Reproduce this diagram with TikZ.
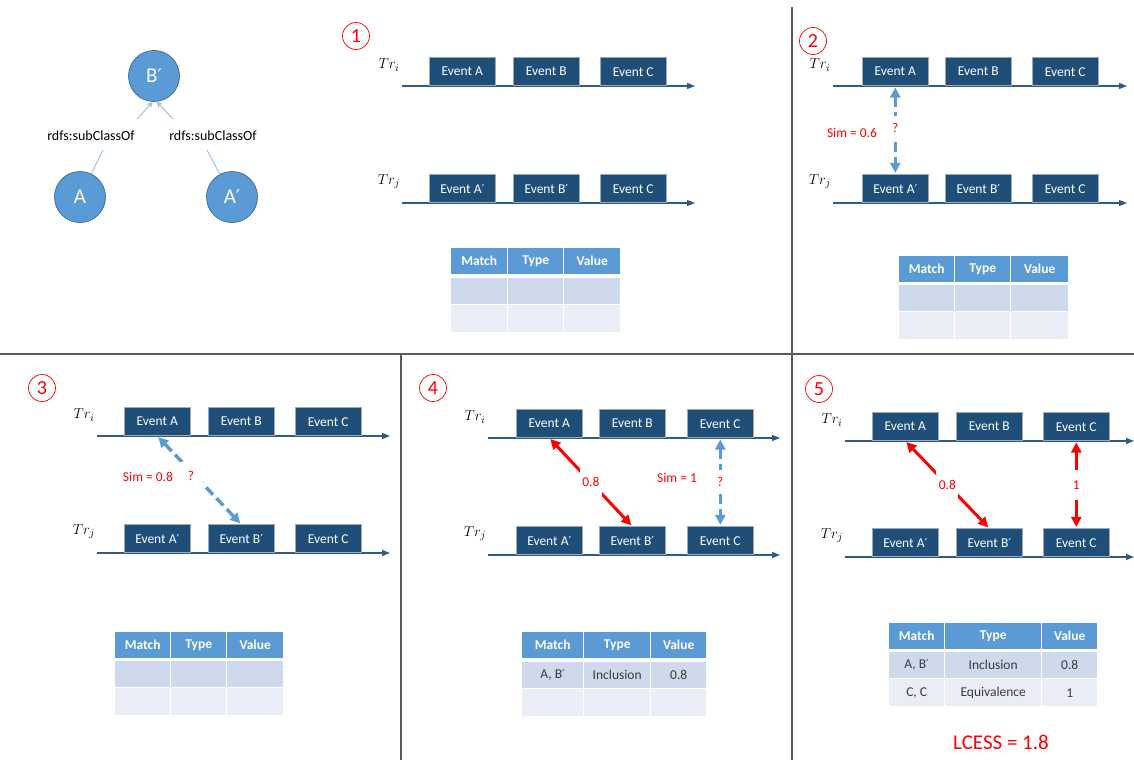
\documentclass[tikz,border=0pt]{standalone}
\usepackage{fontspec}
\setmainfont{Carlito}
\newfontfamily\primefont{DejaVu Sans}
\newcommand\prm{{\primefont\scalebox{0.9}{′}}}
\usetikzlibrary{arrows.meta}
\definecolor{navy}{HTML}{1F4E79}
\definecolor{tline}{HTML}{2E5B88}
\definecolor{cblue}{HTML}{5B9BD5}
\definecolor{cborder}{HTML}{41719C}
\definecolor{lblue}{HTML}{9DC3E6}
\definecolor{rowa}{HTML}{CFD9EC}
\definecolor{rowb}{HTML}{E9EDF5}
\definecolor{divgray}{HTML}{5A5A5A}
\definecolor{txtgray}{HTML}{3A3A3A}
\definecolor{brd}{HTML}{A0A8B4}

\newcommand\traces[8]{%
  \node[trlab] (#1ti) at (#2-13,#4-21) {$Tr_i$};
  \node[trlab] (#1tj) at (#2-13,#5-21) {$Tr_j$};
  \coordinate (#1is) at (#2,#4); \coordinate (#1ie) at (#3,#4);
  \coordinate (#1js) at (#2,#5); \coordinate (#1je) at (#3,#5);
  \draw[timeline] (#1is) -- (#1ie);
  \draw[timeline] (#1js) -- (#1je);
  \node[evbox] (#1iA) at (#6,#4) {Event A};
  \node[evbox] (#1iB) at (#7,#4) {Event B};
  \node[evbox] (#1iC) at (#8,#4) {Event C};
  \node[evbox] (#1jA) at (#6,#5) {Event A\prm};
  \node[evbox] (#1jB) at (#7,#5) {Event B\prm};
  \node[evbox] (#1jC) at (#8,#5) {Event C};
}
\newcommand\thead[6]{\def\tx{#2}\def\twa{#4}\def\twb{#5}\def\twc{#6}%
  \node[hcell,minimum width=#4*1pt] (#1h1) at (#2,#3) {Match};
  \node[hcell,minimum width=#5*1pt] (#1h2) at (#2+#4+1,#3) {Type};
  \node[hcell,minimum width=#6*1pt] (#1h3) at (#2+#4+#5+2,#3) {Value};}
\newcommand\trow[7]{%
  \node[bcell,#4,minimum width=\twa*1pt] (#1#2a) at (\tx,#3) {#5};
  \node[bcell,#4,minimum width=\twb*1pt] (#1#2b) at (\tx+\twa+1,#3) {#6};
  \node[bcell,#4,minimum width=\twc*1pt] (#1#2c) at (\tx+\twa+\twb+2,#3) {#7};}

\begin{document}
\begin{tikzpicture}[x=1pt,y=-1pt,
  timeline/.style={draw=tline,line width=1.2pt,-{Triangle[length=8pt,width=6pt]}},
  evbox/.style={rectangle,anchor=south west,fill=navy,draw=brd,line width=0.6pt,
    minimum width=66pt,minimum height=28pt,inner sep=0pt,text=white,
    font=\fontsize{13.5}{15}\selectfont},
  trlab/.style={inner sep=0pt,font=\fontsize{15}{17}\selectfont},
  numc/.style={circle,draw=red,line width=0.7pt,text=red,minimum size=27pt,inner sep=0pt,
    font=\fontsize{20}{20}\selectfont},
  hcell/.style={rectangle,anchor=north west,fill=cblue,minimum height=26pt,inner sep=0pt,
    text=white,font=\fontsize{13.5}{15}\selectfont\bfseries},
  bcell/.style={rectangle,anchor=north west,minimum height=26pt,inner sep=0pt,
    text=txtgray,font=\fontsize{13.5}{15}\selectfont},
  ra/.style={fill=rowa},
  rb/.style={fill=rowb,minimum height=27pt},
  cnode/.style={circle,fill=cblue,draw=cborder,line width=0.8pt,minimum size=51pt,
    inner sep=0pt,text=white,font=\fontsize{21}{23}\selectfont},
  glab/.style={inner sep=0pt,font=\fontsize{14}{16}\selectfont},
  subl/.style={draw=lblue,line width=1pt},
  redtxt/.style={inner sep=0pt,text=red,font=\fontsize{13.5}{15}\selectfont},
  gaplab/.style={fill=white,inner sep=0pt,minimum width=22pt,minimum height=28pt,
    text=red,font=\fontsize{13.5}{15}\selectfont},
  redarr/.style={draw=red,line width=3pt,shorten <=1.5pt,shorten >=1.5pt,
    {Triangle[length=10pt,width=10pt]}-{Triangle[length=10pt,width=10pt]}},
  bluearr/.style={draw=cblue,line width=3.5pt,dash pattern=on 10pt off 5pt,shorten <=1.5pt,shorten >=1.5pt,
    {Triangle[length=10pt,width=10pt]}-{Triangle[length=10pt,width=10pt]}},
  divider/.style={draw=divgray,line width=1.3pt}
]
\useasboundingbox (0,0) rectangle (1134,760);

% dividers
\draw[divider] (792,7) -- (792,760);
\draw[divider] (0,354) -- (1134,354);
\draw[divider] (401,354) -- (401,760);

% ontology graph
\node[cnode] (Bp) at (154,76) {B\prm};
\node[cnode] (A) at (80,197) {A};
\node[cnode] (Ap) at (232,197) {A\prm};
\node[glab] (l1) at (91,136) {rdfs:subClassOf};
\node[glab] (l2) at (213,136) {rdfs:subClassOf};
\coordinate (la1) at (103,150);
\coordinate (la2) at (137,119);
\coordinate (lb1) at (207,150);
\coordinate (lb2) at (173,119);
\draw[subl] (A) -- (la1);
\draw[subl,-{Stealth[length=6pt,width=6pt]}] (la2) -- (Bp.-93);
\draw[subl] (Ap) -- (lb1);
\draw[subl,-{Stealth[length=6pt,width=6pt]}] (lb2) -- (Bp.-84);

% panel 1
\node[numc] (n1) at (356,36) {1};
\traces{p1}{402}{695}{86}{203}{429}{513}{600}
\thead{t1}{451}{248}{56}{55}{56}
\trow{t1}{r1}{278}{ra}{}{}{}
\trow{t1}{r2}{305}{rb}{}{}{}

% panel 2
\node[numc] (n2) at (813,41) {2};
\traces{p2}{833}{1127}{86}{203}{862}{945}{1032}
\draw[bluearr] (p2iA.south) -- (p2jA.north) node[gaplab,pos=0.48,minimum height=24pt] (q2) {?};
\node[redtxt] (s2) at (852,133) {Sim = 0.6};
\thead{t2}{899}{256}{55}{55}{57}
\trow{t2}{r1}{285}{ra}{}{}{}
\trow{t2}{r2}{312}{rb}{}{}{}

% panel 3
\node[numc] (n3) at (42,388) {3};
\traces{p3}{97}{390}{436}{553}{124}{208}{295}
\draw[bluearr] (p3iA.south) -- (p3jB.north);
\node[gaplab,minimum width=24pt] (q3) at (191,476) {?};
\node[redtxt] (s3) at (148,477) {Sim = 0.8};
\thead{t3}{115}{632}{55}{55}{56}
\trow{t3}{r1}{661}{ra}{}{}{}
\trow{t3}{r2}{688}{rb}{}{}{}

% panel 4
\node[numc] (n4) at (433,388) {4};
\traces{p4}{488}{780}{438}{555}{516}{599}{687}
\draw[redarr] (p4iA.south) -- (p4jB.north) node[gaplab,pos=0.5] (v4) {0.8};
\draw[bluearr] (p4iC.south) -- (p4jC.north) node[gaplab,pos=0.5,minimum height=24pt] (q4) {?};
\node[redtxt] (s4) at (677,478) {Sim = 1};
\thead{t4}{522}{632}{61}{66}{55}
\trow{t4}{r1}{662}{ra}{A, B\prm}{Inclusion}{0.8}
\trow{t4}{r2}{689}{rb}{}{}{}

% panel 5
\node[numc] (n5) at (819,389) {5};
\traces{p5}{845}{1134}{441}{557}{872}{956}{1043}
\draw[redarr] (p5iA.south) -- (p5jB.north) node[gaplab,pos=0.5] (v5a) {0.8};
\draw[redarr] (p5iC.south) -- (p5jC.north) node[gaplab,pos=0.5,minimum height=30pt] (v5b) {1};
\thead{t5}{889}{623}{55}{96}{55}
\trow{t5}{r1}{652}{ra}{A, B\prm}{Inclusion}{0.8}
\trow{t5}{r2}{679}{rb}{C, C}{Equivalence}{1}
\node[inner sep=0pt,text=red,font=\fontsize{21}{24}\selectfont] (lcess) at (1001,742) {LCESS = 1.8};
\end{tikzpicture}
\end{document}
